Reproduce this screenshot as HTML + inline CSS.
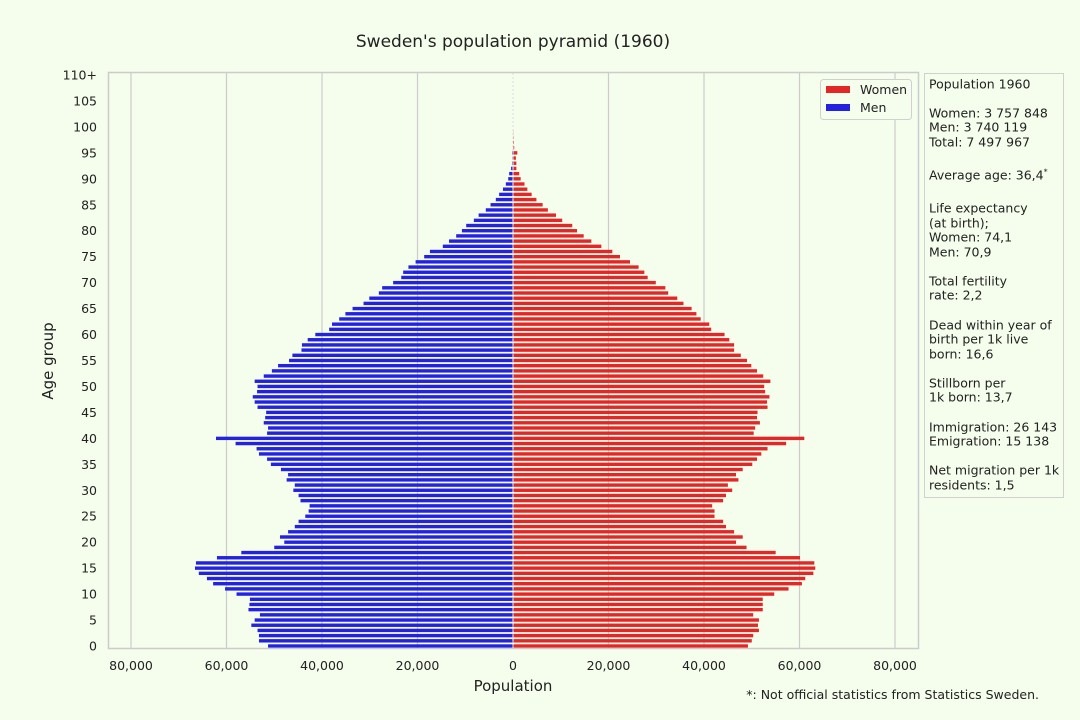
<!DOCTYPE html>
<html><head><meta charset="utf-8">
<style>
html,body{margin:0;padding:0;background:#f5fded;}
svg{display:block;font-family:"DejaVu Sans","Liberation Sans",sans-serif;}
</style></head>
<body>
<svg id="chart" width="1080" height="720" viewBox="0 0 1080 720">
<rect x="0" y="0" width="1080" height="720" fill="#f5fded"/>
<text x="513" y="47" text-anchor="middle" font-size="17" fill="#222">Sweden's population pyramid (1960)</text>
<g id="grid"></g>
<g id="bars"></g>
<rect x="108.5" y="72.5" width="810" height="576" fill="none" stroke="#cccccc" stroke-width="1.5"/>
<g id="ticks"></g>
<text x="513" y="691" text-anchor="middle" font-size="15" fill="#222">Population</text>
<text x="53" y="361" text-anchor="middle" font-size="15" fill="#222" transform="rotate(-90 53 361)">Age group</text>
<g>
<rect x="820.5" y="79.5" width="91" height="40" rx="3" fill="#f5fded" stroke="#d0d0d0"/>
<rect x="826" y="86" width="24" height="7" fill="#e32626"/>
<text x="860" y="94" font-size="12.5" fill="#222">Women</text>
<rect x="826" y="104" width="24" height="7" fill="#2222e0"/>
<text x="860" y="112" font-size="12.5" fill="#222">Men</text>
</g>
<g>
<rect x="924.5" y="73.5" width="139" height="424" fill="#f5fded" stroke="#d0d0d0"/>
<g id="info" font-size="12.5" fill="#222"></g>
</g>
<text x="1039" y="699" text-anchor="end" font-size="12.5" fill="#222">*: Not official statistics from Statistics Sweden.</text>
</svg>
<script>
// values in thousands, index = age
const ages = Array.from({length:111},(_,i)=>i);
const men = [51.3,53.2,53.2,53.5,54.8,54.1,53.0,55.4,55.2,55.1,
57.9,60.3,62.8,64.1,65.8,66.6,66.4,62.0,56.9,50.0,
47.9,48.8,47.1,45.7,44.9,43.5,42.8,42.6,44.5,44.9,
46.0,45.7,47.4,47.1,48.6,50.7,51.5,53.2,53.7,58.1,
62.2,51.5,51.3,52.2,51.9,51.7,53.5,54.1,54.5,53.6,
53.5,54.1,52.2,50.5,49.2,46.9,46.2,44.3,44.2,43.0,
41.4,38.5,37.9,36.4,35.1,33.6,31.3,30.1,28.1,27.4,
25.1,23.4,23.0,21.9,20.4,18.6,17.4,14.7,13.4,11.9,
10.7,9.8,8.2,7.2,5.7,4.7,3.6,2.9,2.1,1.5,
1.0,0.8,0.4,0.2,0.15,0.2,0.05,0.03,0.02,0.01,
0,0,0,0,0,0,0,0,0,0,0];
const women = [49.1,49.9,50.2,51.4,51.2,51.4,50.2,52.2,52.2,52.2,
54.6,57.6,60.4,61.1,62.8,63.2,63.0,60.0,54.9,48.8,
46.6,48.0,46.2,44.5,43.9,42.1,42.1,41.6,43.9,44.5,
45.8,44.9,47.1,46.6,48.0,50.0,51.0,51.9,53.2,57.1,
60.9,50.3,50.6,51.6,51.0,51.1,53.2,53.1,53.6,52.7,
52.5,53.8,52.3,51.0,49.8,48.9,47.6,46.2,46.2,45.2,
44.2,41.4,41.0,39.2,38.3,37.3,35.6,34.3,32.4,31.8,
29.8,28.1,27.4,26.2,24.4,22.3,20.7,18.4,16.3,14.7,
13.3,12.3,10.2,8.9,7.2,6.1,4.8,3.8,2.9,2.3,
1.5,1.2,0.6,0.6,0.5,0.8,0.15,0.1,0.05,0.03,
0,0,0,0,0,0,0,0,0,0,0];
const xTicks = [-80000,-60000,-40000,-20000,0,20000,40000,60000,80000];
const yTicks = [0,5,10,15,20,25,30,35,40,45,50,55,60,65,70,75,80,85,90,95,100,105,110];
const infoLines = ["Population 1960","Women: 3 757 848","Men: 3 740 119","Total: 7 497 967","Average age: 36,4","Life expectancy","(at birth);","Women: 74,1","Men: 70,9","Total fertility","rate: 2,2","Dead within year of","birth per 1k live","born: 16,6","Stillborn per","1k born: 13,7","Immigration: 26 143","Emigration: 15 138","Net migration per 1k","residents: 1,5"];
const infoRows = [84,113,127,142,175,208,223,237,252,281,295,325,339,354,383,397,427,441,470,485];

const NS="http://www.w3.org/2000/svg";
function xs(v){return 513 + v*(382/80000);}
function ys(a){return 646 - a*(571/110);}
function mk(tag,attrs,parent){const e=document.createElementNS(NS,tag);for(const k in attrs)e.setAttribute(k,attrs[k]);parent.appendChild(e);return e;}
const grid=document.getElementById('grid'),bars=document.getElementById('bars'),ticks=document.getElementById('ticks'),info=document.getElementById('info');
xTicks.forEach(t=>{
  if(t!==0){const l=mk('line',{x1:xs(t),x2:xs(t),y1:73,y2:648,stroke:'#cccccc','stroke-width':1.2},grid);
  
  }
  const tx=mk('text',{x:xs(t),y:670,'text-anchor':'middle','font-size':12.5,fill:'#222'},ticks);
  tx.textContent=Math.abs(t).toLocaleString('en-US');
  
  
});
const zl=mk('line',{x1:513,x2:513,y1:73,y2:648,stroke:'#dddddd','stroke-width':1,'stroke-dasharray':'2,2'},grid);


yTicks.forEach(a=>{
  const tx=mk('text',{x:97,y:ys(a)+4.5,'text-anchor':'end','font-size':12.5,fill:'#222'},ticks);
  tx.textContent=a===110?'110+':String(a);
  
  
});
const bh=3.4;
ages.forEach(a=>{
  const m=men[a]*1000,w=women[a]*1000,y=ys(a)-bh/2;
  if(m>0){const r=mk('rect',{x:xs(-m),y:y,width:Math.max(0,xs(0)-xs(-m)-0.5),height:bh,fill:'#2222e0'},bars);
  
  }
  if(w>0){const r=mk('rect',{x:xs(0)+0.5,y:y,width:xs(w)-xs(0),height:bh,fill:'#e32626'},bars);
  
  }
});
infoLines.forEach((s,i)=>{
  const t=mk('text',{x:929,y:infoRows[i]+4.5},info);
  t.textContent=s;
  if(s.startsWith('Average')){const sp=mk('tspan',{dy:-5,'font-size':8},t);sp.textContent='*';}
  
  
});
</script>
</body></html>
